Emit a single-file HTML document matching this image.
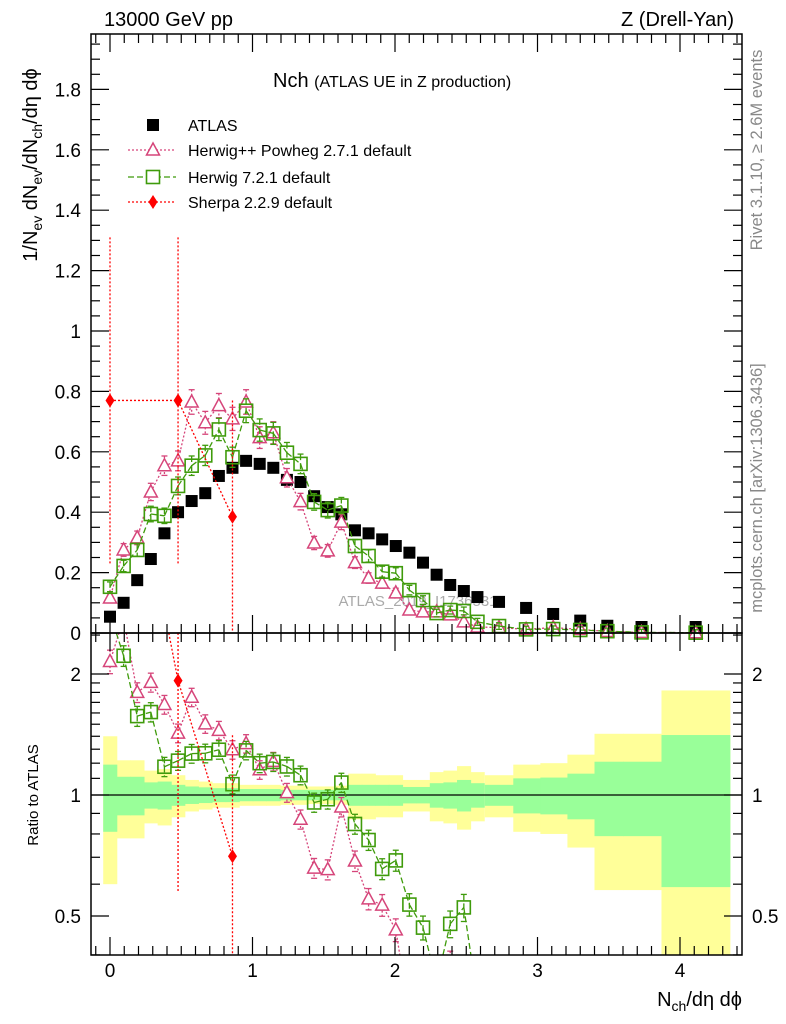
<!DOCTYPE html>
<html><head><meta charset="utf-8"><style>
html,body{margin:0;background:#fff;overflow:hidden;width:786px;height:1024px}
svg{display:block;font-family:"Liberation Sans",sans-serif}
</style></head><body>
<svg id="c" width="786" height="1024" viewBox="0 0 786 1024"></svg>
<script>
const xs = [0,0.0955,0.191,0.2865,0.382,0.4775,0.573,0.6685,0.764,0.8595,0.955,1.0505,1.146,1.2415,1.337,1.4325,1.528,1.6235,1.719,1.8145,1.91,2.0055,2.101,2.1965,2.292,2.3875,2.483,2.5785,2.73,2.92,3.11,3.30,3.49,3.73,4.11];
const xlo = [2.63,2.83,3.02,3.21,3.40,3.60,3.87];
const xhi = [2.83,3.02,3.21,3.40,3.60,3.87,4.35];
const atlas = [0.054,0.10,0.175,0.245,0.33,0.40,0.437,0.463,0.52,0.547,0.57,0.56,0.547,0.507,0.50,0.453,0.417,0.393,0.34,0.33,0.31,0.288,0.266,0.233,0.193,0.159,0.139,0.119,0.103,0.083,0.063,0.041,0.024,0.01,0.004];
const eTot = [0.4,0.22,0.22,0.15,0.16,0.12,0.09,0.08,0.07,0.07,0.06,0.06,0.06,0.055,0.055,0.05,0.05,0.055,0.13,0.13,0.12,0.12,0.09,0.09,0.14,0.15,0.18,0.14,0.12,0.19,0.20,0.26,0.42,0.42,0.82];
const eStat = [0.19,0.11,0.11,0.075,0.08,0.06,0.05,0.045,0.04,0.04,0.035,0.035,0.035,0.03,0.03,0.03,0.03,0.03,0.06,0.06,0.06,0.06,0.047,0.047,0.07,0.075,0.09,0.07,0.06,0.10,0.105,0.13,0.21,0.21,0.41];
const herwigpp = [0.116,0.275,0.315,0.467,0.554,0.57,0.765,0.696,0.753,0.709,0.765,0.647,0.663,0.514,0.435,0.298,0.272,0.367,0.233,0.182,0.165,0.133,0.076,0.07,0.07,0.06,0.037,0.02,0.018,0.012,0.018,0.012,0.005,0.002,0.001];
const herwig7 = [0.153,0.222,0.275,0.394,0.388,0.487,0.554,0.588,0.674,0.582,0.736,0.672,0.661,0.597,0.56,0.434,0.407,0.422,0.288,0.255,0.203,0.198,0.142,0.109,0.066,0.076,0.073,0.037,0.023,0.012,0.013,0.01,0.006,0.002,0.001];
const sherpaIdx = [0,5,9];
const sherpa = [0.77,0.77,0.385];
const sherpaErr = [0.54,0.54,0.385];
const yTicks = [0,0.2,0.4,0.6,0.8,1,1.2,1.4,1.6,1.8];
const xTicks = [0,1,2,3,4];
const rTicks = [0.5,1,2];

const NS="http://www.w3.org/2000/svg", svg=document.getElementById('c');
const L=91,R=742,T=34,MB=633,RB=955;
const X=v=>110+v*142.5;
const Y=v=>633-v*302;
const RY=r=>795-121*Math.log2(r);
const cl=(v,a,b)=>Math.max(a,Math.min(b,v));
function el(t,a,p){const e=document.createElementNS(NS,t);for(const k in a)e.setAttribute(k,a[k]);(p||svg).appendChild(e);return e;}
function lo(i){return i<28?xs[i]-0.0477:xlo[i-28];}
function hi(i){return i<28?xs[i]+0.0477:xhi[i-28];}

const gb=el('g',{});

function band(i,e,fill,name){
  const y1=cl(RY(1+e),MB,RB),y2=cl(RY(Math.max(1-e,0.05)),MB,RB);
  const r=el('rect',{x:X(lo(i)),y:y1,width:X(hi(i))-X(lo(i))+0.5,height:y2-y1,fill:fill},gb);
  
}
for(let i=0;i<xs.length;i++) band(i,eTot[i],'#ffff99','total-uncertainty-band');
for(let i=0;i<xs.length;i++) band(i,eStat[i],'#99ff99','stat-uncertainty-band');
el('line',{x1:L,x2:R,y1:RY(1),y2:RY(1),stroke:'#000','stroke-width':1.3},gb);

function seg(g,x1,y1,x2,y2,top,bot,attrs){
  // clip segment vertically to [top,bot]
  if((y1<top&&y2<top)||(y1>bot&&y2>bot))return;
  const f=(yy)=>x1+(x2-x1)*(yy-y1)/(y2-y1);
  if(y1<top){x1=f(top);y1=top;} else if(y1>bot){x1=f(bot);y1=bot;}
  if(y2<top){x2=x1+(x2-x1)*0+ (f(top)-x1); y2=top;} else if(y2>bot){x2=f(bot);y2=bot;}
  const a=Object.assign({x1,y1,x2,y2},attrs);el('line',a,g);
}
function series(name,vals,color,dash,marker,pad,err){
  const top=pad?MB:T,bot=pad?RB:MB;
  const g=el('g',{});
  
  const pts=[];
  vals.forEach((v,j)=>{
    const i=marker==='diamond'?sherpaIdx[j]:j;
    const val=pad?v/atlas[i]:v;
    if(val<=0)return;
    pts.push([X(xs[i]),pad?RY(val):Y(val),val,i,j]);
  });
  const la={stroke:color,'stroke-width':1.3,'stroke-dasharray':dash};
  for(let k=1;k<pts.length;k++){
    const [xa,ya]=pts[k-1],[xb,yb]=pts[k];
    if(ya===yb){ if(ya>=top&&ya<=bot) el('line',Object.assign({x1:xa,y1:ya,x2:xb,y2:yb},la),g); continue;}
    let x1=xa,y1=ya,x2=xb,y2=yb;
    if((y1<top&&y2<top)||(y1>bot&&y2>bot))continue;
    const f=yy=>xa+(xb-xa)*(yy-ya)/(yb-ya);
    if(y1<top){x1=f(top);y1=top;}else if(y1>bot){x1=f(bot);y1=bot;}
    if(y2<top){x2=f(top);y2=top;}else if(y2>bot){x2=f(bot);y2=bot;}
    el('line',Object.assign({x1,y1,x2,y2},la),g);
  }
  pts.forEach(p=>{
    const [px,py,val,i,j]=p;
    let a,b;
    if(err){
      const e=err[j];
      if(pad){const rel=e/vals[j];a=RY(val*(1+rel));b=RY(Math.max(val*(1-rel),0.01));}
      else{a=Y(val+e);b=Y(Math.max(val-e,0));}
    } else {
      const rel=Math.min(0.15,0.05+0.002/Math.max(vals[j],0.001));
      if(pad){a=RY(val*(1+rel));b=RY(val*(1-rel));}
      else{const e=0.01+0.04*vals[j];a=Y(val+e);b=Y(Math.max(val-e,0));}
    }
    const ca=cl(a,top,bot),cb=cl(b,top,bot);
    if(ca!==cb) el('line',Object.assign({x1:px,x2:px,y1:ca,y2:cb},la),g);
    if(marker!=='diamond'){
      if(a>=top&&a<=bot) el('line',{x1:px-3,x2:px+3,y1:a,y2:a,stroke:color,'stroke-width':1.3},g);
      if(b>=top&&b<=bot) el('line',{x1:px-3,x2:px+3,y1:b,y2:b,stroke:color,'stroke-width':1.3},g);
    }
    if(py<top-4||py>bot+4)return;
    let m;
    if(marker==='tri') m=el('polygon',{points:`${px},${py-7} ${px-6.5},${py+5} ${px+6.5},${py+5}`,fill:'#fff',stroke:color,'stroke-width':1.5},g);
    else if(marker==='sq') m=el('rect',{x:px-6.5,y:py-6.5,width:13,height:13,fill:'none',stroke:color,'stroke-width':1.6},g);
    else m=el('polygon',{points:`${px},${py-7} ${px-4.5},${py} ${px},${py+7} ${px+4.5},${py}`,fill:color},g);
    
  });
}
const wm=el('text',{x:418,y:606,'font-size':15,fill:'#aaa','text-anchor':'middle'});wm.textContent='ATLAS_2019_I1736531';

const ga=el('g',{});

atlas.forEach((v,i)=>{
  const r=el('rect',{x:X(xs[i])-6,y:Math.min(Y(v)-6,MB-12),width:12,height:12,fill:'#000'},ga);
  
});

series('herwigpp-series',herwigpp,'#d6457a','2,2','tri',false);
series('herwig7-series',herwig7,'#3f9b0b','6,3','sq',false);
series('sherpa-series',sherpa,'#ff0000','2,2','diamond',false,sherpaErr);
series('herwigpp-ratio',herwigpp,'#d6457a','2,2','tri',true);
series('herwig7-ratio',herwig7,'#3f9b0b','6,3','sq',true);
series('sherpa-ratio',sherpa,'#ff0000','2,2','diamond',true,sherpaErr);

el('rect',{x:L,y:T,width:R-L,height:MB-T,fill:'none',stroke:'#000','stroke-width':1.5});
el('rect',{x:L,y:MB,width:R-L,height:RB-MB,fill:'none',stroke:'#000','stroke-width':1.5});
const axg=el('g',{stroke:'#000','stroke-width':1.2});

for(let k=-1;k<=44;k++){
  const v=k/10,px=X(v);if(px<L||px>R)continue;
  const big=k%10===0,len=big?18:9;
  [[T,1],[MB,-1],[MB,1],[RB,-1]].forEach(([y0,d])=>el('line',{x1:px,x2:px,y1:y0,y2:y0+d*len},axg));
}
for(let k=0;k<=39;k++){
  const v=k*0.05,py=Y(v);if(py<T)continue;
  const big=k%4===0,len=big?18:9;
  el('line',{x1:L,x2:L+len,y1:py,y2:py},axg);el('line',{x1:R,x2:R-len,y1:py,y2:py},axg);
}
[0.4,0.5,0.6,0.7,0.8,0.9,1,1.1,1.2,1.3,1.4,1.5,1.6,1.7,1.8,1.9,2,2.5].forEach(v=>{
  const py=RY(v);if(py<MB||py>RB)return;
  const len=(v===0.5||v===1||v===2)?18:9;
  el('line',{x1:L,x2:L+len,y1:py,y2:py},axg);el('line',{x1:R,x2:R-len,y1:py,y2:py},axg);
});
function txt(s,a,name){const t=el('text',a);t.textContent=s;return t;}
yTicks.forEach(v=>txt(String(v),{x:81,y:Y(v)+7,'font-size':19,'text-anchor':'end'},'y-tick-label'));
xTicks.forEach(v=>txt(String(v),{x:X(v),y:977,'font-size':19,'text-anchor':'middle'},'x-tick-label'));
rTicks.forEach(v=>{txt(String(v),{x:81,y:RY(v)+7,'font-size':19,'text-anchor':'end'},'ratio-tick-label');
  txt(String(v),{x:752,y:RY(v)+7,'font-size':19},'ratio-tick-label-right');});

txt('13000 GeV pp',{x:104,y:26,'font-size':20},'energy-label');
txt('Z (Drell-Yan)',{x:734,y:26,'font-size':20,'text-anchor':'end'},'process-label');
const ti=txt('',{x:273,y:87,'font-size':20},'plot-title');
ti.innerHTML='Nch <tspan font-size="16">(ATLAS UE in Z production)</tspan>';
const yl=txt('',{transform:'translate(37,165) rotate(-90)','font-size':20,'text-anchor':'middle'},'y-axis-title');
yl.innerHTML='1/N<tspan font-size="14" dy="5">ev</tspan><tspan dy="-5"> dN</tspan><tspan font-size="14" dy="5">ev</tspan><tspan dy="-5">/dN</tspan><tspan font-size="14" dy="5">ch</tspan><tspan dy="-5">/dη dϕ</tspan>';
txt('Ratio to ATLAS',{transform:'translate(38,795) rotate(-90)','font-size':15,'text-anchor':'middle'},'ratio-axis-title');
const xl=txt('',{x:742,y:1006,'font-size':20,'text-anchor':'end'},'x-axis-title');
xl.innerHTML='N<tspan font-size="14" dy="5">ch</tspan><tspan dy="-5">/dη dϕ</tspan>';
txt('Rivet 3.1.10, ≥ 2.6M events',{transform:'translate(762,150) rotate(-90)','font-size':16.5,fill:'#888','text-anchor':'middle'},'rivet-label');
txt('mcplots.cern.ch [arXiv:1306.3436]',{transform:'translate(762,488) rotate(-90)','font-size':16.5,fill:'#888','text-anchor':'middle'},'mcplots-label');

const lg=el('g',{});
el('rect',{x:147,y:119,width:12,height:12,fill:'#000'},lg);
txt('ATLAS',{x:188,y:131,'font-size':16},'legend-atlas');
el('line',{x1:128,x2:176,y1:150,y2:150,stroke:'#d6457a','stroke-width':1.3,'stroke-dasharray':'2,2'},lg);
el('polygon',{points:'153,143 146.5,155 159.5,155',fill:'#fff',stroke:'#d6457a','stroke-width':1.5},lg);
txt('Herwig++ Powheg 2.7.1 default',{x:188,y:156,'font-size':16},'legend-herwigpp');
el('line',{x1:128,x2:176,y1:177,y2:177,stroke:'#3f9b0b','stroke-width':1.3,'stroke-dasharray':'6,3'},lg);
el('rect',{x:146.5,y:170.5,width:13,height:13,fill:'#fff',stroke:'#3f9b0b','stroke-width':1.6},lg);
txt('Herwig 7.2.1 default',{x:188,y:183,'font-size':16},'legend-herwig7');
el('line',{x1:128,x2:176,y1:202,y2:202,stroke:'#ff0000','stroke-width':1.3,'stroke-dasharray':'2,2'},lg);
el('polygon',{points:'153,195 148.5,202 153,209 157.5,202',fill:'#ff0000'},lg);
txt('Sherpa 2.2.9 default',{x:188,y:208,'font-size':16},'legend-sherpa');
</script>
</body></html>
